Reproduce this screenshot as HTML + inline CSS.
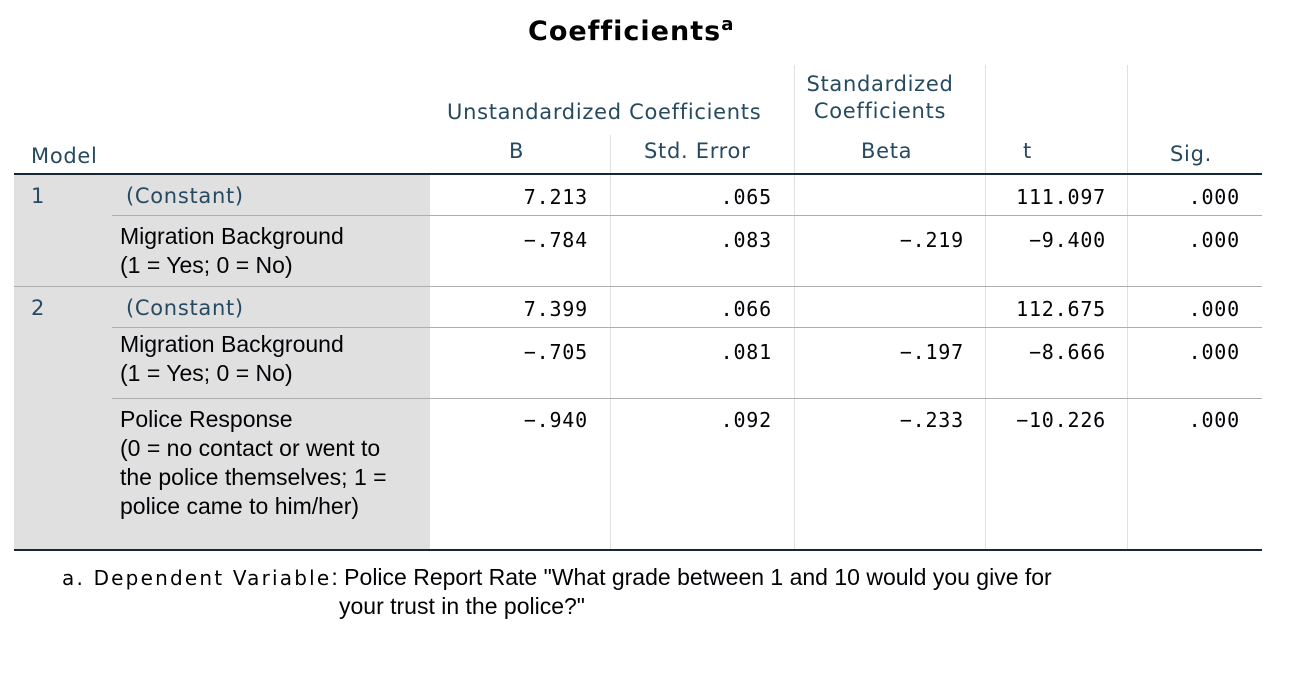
<!DOCTYPE html>
<html><head><meta charset="utf-8"><style>
body{margin:0;width:1298px;height:680px;background:#fff;position:relative;overflow:hidden;font-family:"DejaVu Sans","Liberation Sans",sans-serif;}
.a{position:absolute;white-space:nowrap}
.h{color:#264a60;font-size:21px;letter-spacing:0.7px}
.d{color:#010205;font-size:20px;font-family:"DejaVu Sans Mono","Liberation Mono",monospace;letter-spacing:0.8px}
.l{color:#010205;font-size:23px;font-family:"Liberation Sans",sans-serif;line-height:29px}
.hl{position:absolute;height:1px;background:#aeaeae}
.vl{position:absolute;width:1px;background:#e0e0e0}
</style></head><body>
<div class="a" style="left:528px;top:14px;font-size:27px;font-weight:bold;color:#000;letter-spacing:1px;font-family:'DejaVu Sans',sans-serif">Coefficients<sup style="font-size:18px">a</sup></div>

<div style="position:absolute;left:14px;top:175px;width:416px;height:375px;background:#e0e0e0"></div>

<div class="vl" style="left:610px;top:135px;height:415px"></div>
<div class="vl" style="left:794px;top:65px;height:485px"></div>
<div class="vl" style="left:985px;top:65px;height:485px"></div>
<div class="vl" style="left:1127px;top:65px;height:485px"></div>

<div class="a h" style="left:447px;top:100px">Unstandardized Coefficients</div>
<div class="a h" style="left:790px;top:71px;width:180px;text-align:center;white-space:normal;line-height:27px">Standardized Coefficients</div>
<div class="a h" style="left:31px;top:144px">Model</div>
<div class="a h" style="left:509px;top:139px">B</div>
<div class="a h" style="left:644px;top:139px">Std. Error</div>
<div class="a h" style="left:861px;top:139px">Beta</div>
<div class="a h" style="left:1023px;top:139px">t</div>
<div class="a h" style="left:1170px;top:142px">Sig.</div>

<div style="position:absolute;left:14px;top:173px;width:1248px;height:2px;background:#152935"></div>
<div class="hl" style="left:112px;top:215px;width:1150px"></div>
<div class="hl" style="left:14px;top:286px;width:1248px"></div>
<div class="hl" style="left:112px;top:327px;width:1150px"></div>
<div class="hl" style="left:112px;top:398px;width:1150px"></div>
<div style="position:absolute;left:14px;top:549px;width:1248px;height:2px;background:#152935"></div>

<div class="a h" style="left:31px;top:184px">1</div>
<div class="a h" style="left:31px;top:296px">2</div>
<div class="a h" style="left:126px;top:184px">(Constant)</div>
<div class="a h" style="left:126px;top:296px">(Constant)</div>
<div class="a l" style="left:120px;top:222px">Migration Background<br>(1 = Yes; 0 = No)</div>
<div class="a l" style="left:120px;top:330px">Migration Background<br>(1 = Yes; 0 = No)</div>
<div class="a l" style="left:120px;top:405px">Police Response<br>(0 = no contact or went to<br>the police themselves; 1 =<br>police came to him/her)</div>

<div id="cells"></div>

<div class="a" style="left:62px;top:563px;font-size:20px;letter-spacing:2.2px;color:#010205;line-height:29px">a. Dependent Variable<span style="font-family:'Liberation Sans',sans-serif;font-size:23px;letter-spacing:0">: Police Report Rate "What grade between 1 and 10 would you give for</span></div>
<div class="a" style="left:339px;top:592px;font-size:23px;color:#010205;font-family:'Liberation Sans',sans-serif;line-height:29px">your trust in the police?"</div>

<script>
const rowTops=[185,228,297,340,408];
const colB=["7.213","-.784","7.399","-.705","-.940"];
const colSE=[".065",".083",".066",".081",".092"];
const colBeta=["","-.219","","-.197","-.233"];
const colT=["111.097","-9.400","112.675","-8.666","-10.226"];
const colSig=[".000",".000",".000",".000",".000"];
const cols=[[colB,588],[colSE,772],[colBeta,964],[colT,1106],[colSig,1240]];
const c=document.getElementById('cells');
cols.forEach(([arr,right])=>{arr.forEach((v,i)=>{
 const d=document.createElement('div');
 d.className='a d';
 
 
 d.style.right=(1298-right)+'px';d.style.top=rowTops[i]+'px';
 d.textContent=v.replace('-','\u2212');c.appendChild(d);});});
</script>
</body></html>
